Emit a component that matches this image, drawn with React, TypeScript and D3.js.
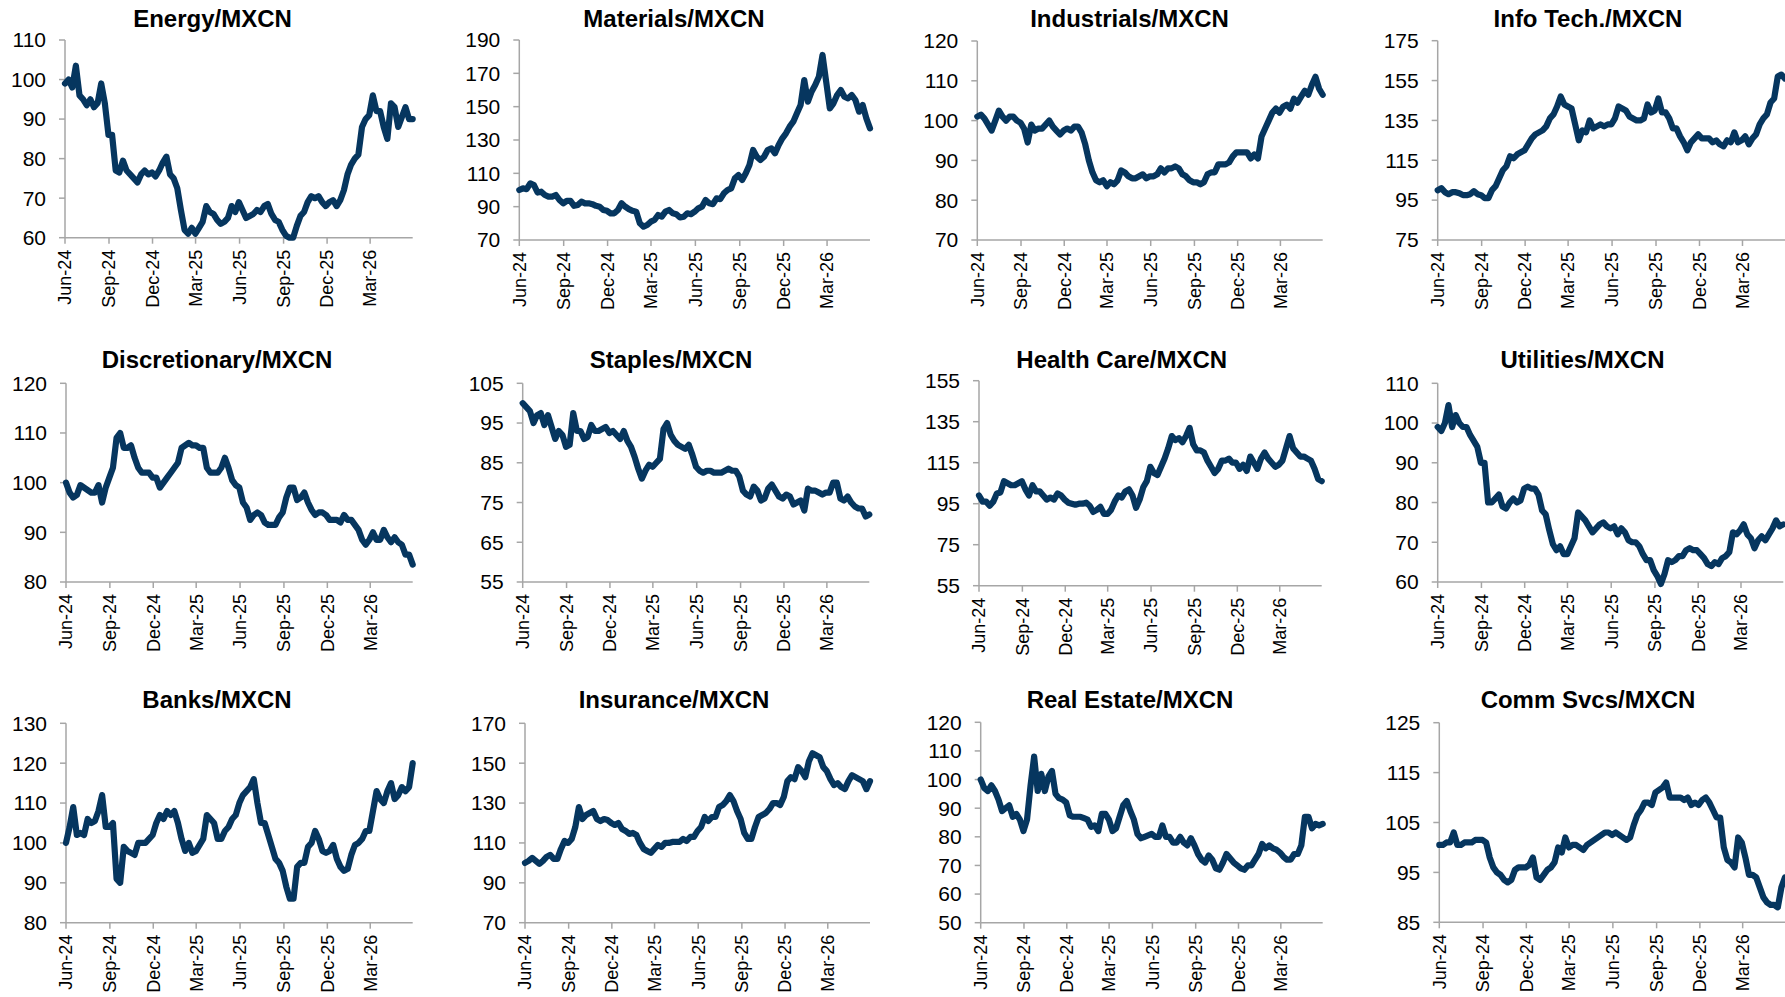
import React from "react";
import * as d3 from "d3";

const tickLabels = ["Jun-24", "Sep-24", "Dec-24", "Mar-25", "Jun-25", "Sep-25", "Dec-25", "Mar-26"];
const startDate = "2024-06-01";
const endDate = "2026-05-29";

const energy = [99,100,98,103.5,96,95,93.5,95,93,94,99,94, 86,86,77,76.5,79.5,77,76,75,74,76,77,76, 76.5,75.5,77,79,80.5,76,75,72.5,67,62,61,62.5, 61,62.5,64,68,66.5,66,64.5,63.5,64,65,68,66.5, 69,67,65,65.5,66,67,66.5,68,68.5,66,64.5,64, 62,60.5,60,60,63,65.5,66.5,69,70.5,70,70.5,69, 68,69,69.5,68,69.5,72,76,78.5,80,81,88,90, 91,96,92,92,88,85,94,93,88,90.5,93,90,90];
const materials = [100,101,100.5,104,103,98.5,99,97,96,96,97,94, 92,93.5,93.5,90.5,91,93,92,92,91.5,90.5,90,88, 87.5,86,86,88,92,90,88.5,87.5,87,80,78,79, 81,82,85,84,87,88,86,85.5,83.5,84,86,85.5, 87,89,90,94,92,91.5,95,94.5,98,100,101,107, 109,106,110,115,124,120,118,120,124,125,122,127, 131,134,138,141,146,151,166,153,159,163,168,181, 165,149,152,157,160,156,155,157,154,147,151,143,137];
const industrials = [101,101.5,100.5,99,97.5,100,102.5,101,100,101,101,100, 99.5,98,94.5,99,97.5,98,98,99,100,98.5,97.5,96.5, 97.5,98,97.5,98.5,98.5,97,94,90,87,85,84.5,85, 83.5,84.5,84,85,87.5,87,86,85.5,85.5,86,86.5,85.5, 86,86,86.5,88,87,88,88,88.5,88,86.5,86,85, 84.5,84.5,84,84.5,86.5,87,87,89,89,89,89.5,91, 92,92,92,92,90.5,91.5,90.5,96,98,100,102,103, 102,103.5,104,103,105.5,104.5,106,107.5,106.5,109,111,108,106.5];
const infoTech = [100,101,99,98,99,99,98.5,97.5,97.5,98,99.5,98, 97.5,96,96,100,102,106,110,112,117,116,118,119, 120,123,126,128,129,130,132,136,138,142,147,143, 142,141,133,125,130,129,135,131,132,133,132,133, 133,136,142,141,140,137,136,135,135,136,143,139, 140,146,139,139,136,131,131,127,124,120,124,126, 128,126,126,126,124,125,123,122,125,124,129,124, 125,127,123,126,128,133,136,138,144,146,157,158,156];
const discretionary = [100,98,97,97.5,99.5,99,98.5,98,98,99.5,96,99, 101,103,109,110,107,107,107.5,105,103,102,102,102, 101,101,99,100,101,102,103,104,107,107.5,108,107.5, 107.5,107,107,103,102,102,102,103,105,103,100.5,99.5, 99,96,95,92.5,93.5,94,93.5,92,91.5,91.5,91.5,93, 94,97,99,99,96.5,97,98,96,94.5,93.5,94,94, 93.5,92.5,92.5,92.5,92,93.5,92.5,92.5,91.5,90.5,88.5,87.5, 88.5,90,88.5,88.5,90.5,89,88,89,88,87.5,85.5,85.5,83.5];
const staples = [100,99,98,95,97,97.5,94.5,97,94,91,93,92, 89,89.5,97.5,93,93,91,91.5,94.5,93,93,93.5,94, 92.5,93,92,91,93,90.5,89,86.5,83.5,81,83,84.5, 84,85,86,93.5,95,92,90.5,89.5,89,88.5,89.5,87, 84,83,82.5,83,83,82.5,82.5,82.5,83,83.5,83,83, 81.5,78,77,76.5,79,78,75.5,76,78.5,79.5,78,76.5, 76,77,76.5,74.5,75,75.5,73,78.5,78,78,77.5,77, 77.5,77.5,80,80,76,75.5,76.5,75,74,73.5,73.5,71.5,72];
const healthCare = [99,96,96,94,96,100,100.5,106,105,104,104,105, 106,102,99,104,101,101,99,97,98,97,100,99, 97,95.5,95,94.5,95,95,95.5,94,91,92,93.5,90, 90,92,96,99,98,101,102,99,93,97,103,106, 113,110,109,113,117,122,128,126,127,125,128,132, 124,121,121,120,116,113,110,112,116,116,117,115, 115,112,114,111,118,115,112,117,120,117,115,113, 114,116,122,128,122,120,118,118,117,116,112,107,106];
const utilities = [99,98,100,104.5,99,102,100,99,99,97,95.5,94, 90,90,80,80,81,82,79,78.5,80,81,80,80.5, 83.5,84,83.5,83.5,82,78,77,73,69.5,68,69,67, 67,69,71,77.5,76.5,75.5,74,72.5,73.5,74.5,75,74, 73.5,74,72,73.5,72.5,70.5,70,70,69,67,65.5,65.5, 63,61.5,59.5,62,65.5,65,65.5,66.5,66.5,68,68.5,68, 68,67,66,64.5,64,65,64.5,66,66.5,67.5,72.5,72, 73,74.5,72,71,68.5,70.5,71.5,70.5,72,73.5,75.5,74,74.5];
const banks = [100,104,109,102,102.5,102,106,105,105.5,108,112,104, 104,105,91,90,99,98,97.5,97,100,100,100,101, 102,105,107,106,108,107,108,105,101,98,100,97.5, 98,99.5,101,107,106,105,101,101,103,104,106,107, 110,112,113,114,116,110,105,105,102,99,96,95, 93,89,86,86,94,95,95,99,100,103,101,98, 97.5,98,99.5,96,94,93,93.5,97,99.5,100,101,103, 103,108,113,111,110,113,115,111,112,114,113,114,120];
const insurance = [100,101,102.5,101,99.5,101,103,104,102,102,107,111, 110,112,118,128,122,124,125,126,122,121,122,121.5, 120,119,120,117,116,114.5,115,114,110,107,106,105, 107,109,108,110,110,110.5,110.5,110.5,112,111,113,113, 116,118,123,121,123,123,128,129,131,134,131,126, 122,115,112,112,118,123,124,125,127,130,130,129, 133,141,143,142,148,146,143,151,155,154,153,148, 146,142,139,140,138,137,141,144,143,142,141,137,141];
const realEstate = [100,97,96,98,96,93,89,90,91,87,88,86, 82,86,98,108,96,102,96,101,103,95,93.5,93, 92,87.5,87,87,87,86.5,86,83.5,84,82,88,88, 86,82,83,87,91,92.5,89,86,81,79.5,80,80.5, 81,80,80,84,80,80,78,78,80,78,77,79.5, 77,74,72,71,73.5,72,69,68.5,71,74,72.5,71, 70,69,68.5,70,70,72,74,77.5,76,77,76,75.5, 74.5,73,72,72,74,74,77,87,87,83,84.5,84,84.5];
const commSvcs = [100.5,100.5,101,101,103,100.5,100.5,101,101,101,101.5,101.5, 101.5,101,98,96,95,94.5,93.5,93,93.5,95.5,96,96, 96,96.5,98,94,93.5,94.5,95.5,96,97,100,99,102, 100,100.5,100.5,100,99.5,100.5,101,101.5,102,102.5,103,103, 102.5,103,102.5,102,101.5,102,104.5,106.5,107.5,109,109,108.5, 111,111.5,112,113,110,110,110,110,109.5,110,108.5,109, 108.5,109.5,110,109,107.5,106,106,100,97.5,97,96,102, 101,98,94.5,94.5,94,92,90,89,88.5,88.5,88,92,94];

const titles = [
  "Energy/MXCN", "Materials/MXCN", "Industrials/MXCN", "Info Tech./MXCN",
  "Discretionary/MXCN", "Staples/MXCN", "Health Care/MXCN", "Utilities/MXCN",
  "Banks/MXCN", "Insurance/MXCN", "Real Estate/MXCN", "Comm Svcs/MXCN",
];
const seriesList = [energy, materials, industrials, infoTech, discretionary, staples, healthCare, utilities, banks, insurance, realEstate, commSvcs];
const yTicksList = [
  [60, 70, 80, 90, 100, 110],
  [70, 90, 110, 130, 150, 170, 190],
  [70, 80, 90, 100, 110, 120],
  [75, 95, 115, 135, 155, 175],
  [80, 90, 100, 110, 120],
  [55, 65, 75, 85, 95, 105],
  [55, 75, 95, 115, 135, 155],
  [60, 70, 80, 90, 100, 110],
  [80, 90, 100, 110, 120, 130],
  [70, 90, 110, 130, 150, 170],
  [50, 60, 70, 80, 90, 100, 110, 120],
  [85, 95, 105, 115, 125],
];

// layout: plot boxes [left, right, top, bottom] and title centre x / baseline y
const boxes = [
  [65, 412.7, 40, 237.7], [519.3, 870, 40, 240], [977.3, 1322.7, 41, 240], [1437.7, 1785, 40.7, 240],
  [66, 412.7, 383.3, 582], [522.7, 869.3, 383.3, 582], [979, 1321.7, 380.7, 585.7], [1437.7, 1783.3, 383.3, 582],
  [66, 412.7, 723.3, 922.7], [525, 870, 723.3, 922.7], [980.7, 1322.7, 722.3, 922.7], [1439.3, 1785, 722.7, 922.3],
];
const titlePos = [
  [212.5, 27.3], [674, 27.3], [1129.5, 27.3], [1588, 27.3],
  [217, 368.3], [671, 368.3], [1121.7, 368.3], [1582.5, 368.3],
  [217, 708.3], [674, 708.3], [1130, 708.3], [1588, 708.3],
];

const FONT = "'Liberation Sans', Arial, sans-serif";
const LINE = "#06365f";
const AXIS = "#a6a6a6";

const parseTick = d3.timeParse("%b-%y");
const parseDay = d3.timeParse("%Y-%m-%d");

function Panel({ idx }: { idx: number }) {
  const [l, r, t, b] = boxes[idx];
  const ticks = yTicksList[idx];
  const data = seriesList[idx];
  const start = parseDay(startDate)!;
  const end = parseDay(endDate)!;
  const x = d3.scaleTime().domain([start, end]).range([l, r]);
  const y = d3.scaleLinear().domain([ticks[0], ticks[ticks.length - 1]]).range([b, t]);
  const n = data.length;
  const span = end.getTime() - start.getTime();
  const pts = data.map((v, i) => ({ d: new Date(start.getTime() + (span * i) / (n - 1)), v }));
  const line = d3
    .line<{ d: Date; v: number }>()
    .x((p) => x(p.d))
    .y((p) => y(p.v));
  const tickDates = tickLabels.map((s) => parseTick(s)!);
  const [tx, ty] = titlePos[idx];
  return (
    <g>
      <text x={tx} y={ty} textAnchor="middle" fontFamily={FONT} fontWeight="bold" fontSize={24} fill="#000">
        {titles[idx]}
      </text>
      <line x1={l} x2={l} y1={t} y2={b} stroke={AXIS} strokeWidth={1.5} />
      <line x1={l} x2={r} y1={b} y2={b} stroke={AXIS} strokeWidth={1.5} />
      {ticks.map((v) => (
        <g key={v}>
          <line x1={l - 6} x2={l} y1={y(v)} y2={y(v)} stroke={AXIS} strokeWidth={1.5} />
          <text x={l - 19} y={y(v)} dy="0.35em" textAnchor="end" fontFamily={FONT} fontSize={21} fill="#000">
            {v}
          </text>
        </g>
      ))}
      {tickDates.map((d, i) => (
        <g key={i}>
          <line x1={x(d)} x2={x(d)} y1={b} y2={b + 6} stroke={AXIS} strokeWidth={1.5} />
          <text
            transform={`translate(${x(d)},${b + 12}) rotate(-90)`}
            dy="0.35em"
            textAnchor="end"
            fontFamily={FONT}
            fontSize={18}
            fill="#000"
          >
            {tickLabels[i]}
          </text>
        </g>
      ))}
      <path d={line(pts) || ""} fill="none" stroke={LINE} strokeWidth={6.2} strokeLinejoin="round" strokeLinecap="round" />
    </g>
  );
}

export default function App() {
  return (
    <svg
      width={1785}
      height={997}
      style={{ position: "absolute", left: 0, top: 0, background: "#fff" }}
    >
      <rect x={0} y={0} width={1785} height={997} fill="#fff" />
      {titles.map((_, i) => (
        <Panel key={i} idx={i} />
      ))}
    </svg>
  );
}
